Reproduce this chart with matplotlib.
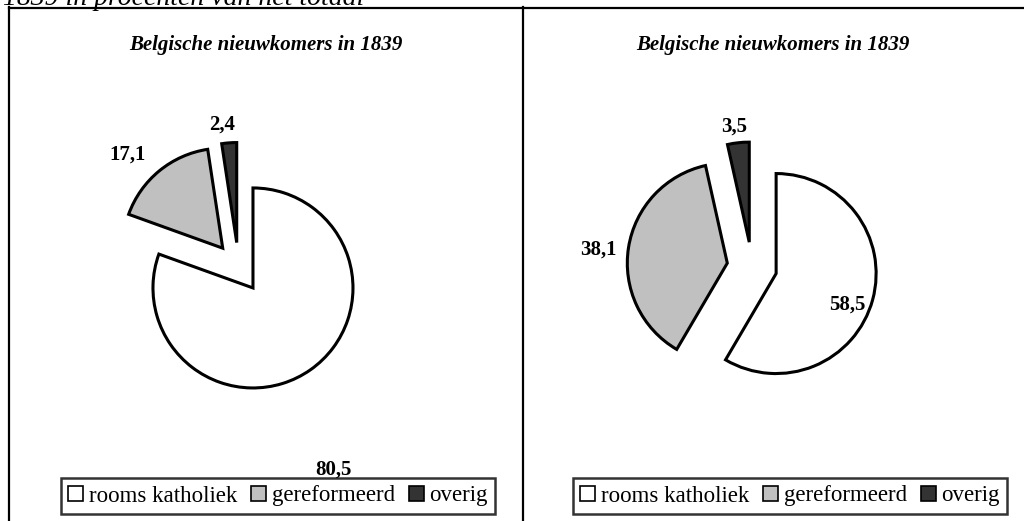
import matplotlib
matplotlib.use("Agg")
import matplotlib.pyplot as plt
from matplotlib.patches import Patch
from matplotlib.lines import Line2D

W, H = 1024, 521
categories = ["rooms katholiek", "gereformeerd", "overig"]
left_values = [80.5, 17.1, 2.4]
right_values = [58.5, 38.1, 3.5]
left_labels = ["80,5", "17,1", "2,4"]
right_labels = ["58,5", "38,1", "3,5"]
title_left = "Belgische nieuwkomers in 1839"
title_right = "Belgische nieuwkomers in 1839"
top_text = "1839 in procenten van het totaal"
colors = ["white", "#c0c0c0", "#333333"]

plt.rcParams['font.family'] = ['Liberation Serif', 'DejaVu Serif']

fig = plt.figure(figsize=(W / 100, H / 100), dpi=100)

# panel borders
def hline(x0, x1, y):
    fig.add_artist(Line2D([x0 / W, x1 / W], [1 - y / H, 1 - y / H], color='black', lw=1.6))

def vline(x, y0, y1):
    fig.add_artist(Line2D([x / W, x / W], [1 - y0 / H, 1 - y1 / H], color='black', lw=1.6))

hline(8.5, 1024, 7.5)
vline(9, 7, 521)
vline(522.5, 7, 521)

fig.text(364 / W, 1 - 5 / H, top_text, ha='right', va='baseline', fontsize=20,
         style='italic')


def pie_panel(x0, x1, cx, cy, values, labels, title, label_pos, leg_cx):
    y0, y1 = 9, 521
    ax = fig.add_axes([x0 / W, 1 - y1 / H, (x1 - x0) / W, (y1 - y0) / H])
    r = 100.0
    ax.pie(values, startangle=90, counterclock=False, explode=[0.25] * 3,
           colors=colors, radius=1.0,
           wedgeprops=dict(edgecolor='black', linewidth=2.2))
    ax.set_xlim((x0 - cx) / r, (x1 - cx) / r)
    ax.set_ylim((cy - y1) / r, (cy - y0) / r)
    ax.set_aspect('auto')
    ax.axis('off')
    for lab, (lx, ly) in zip(labels, label_pos):
        ax.text((lx - cx) / r, (cy - ly) / r, lab, ha='center', va='center',
                fontsize=15, fontweight='bold')
    ax.text(((x0 + x1) / 2 - cx) / r, (cy - 45) / r, title, ha='center', va='center',
            fontsize=15, fontweight='bold', style='italic')
    handles = [Patch(facecolor=c, edgecolor='black', linewidth=1.2) for c in colors]
    leg = ax.legend(handles, categories, loc='center',
                    bbox_to_anchor=((leg_cx - x0) / (x1 - x0), 1 - (496 - y0) / (y1 - y0)),
                    ncol=3, frameon=True, fancybox=False, fontsize=16.5,
                    handlelength=0.65, handleheight=0.65, handletextpad=0.25,
                    columnspacing=0.6, borderpad=0.33, borderaxespad=0)
    leg.get_frame().set_edgecolor('black')
    leg.get_frame().set_linewidth(1.8)
    return ax


pie_panel(9, 522, 238.6, 267.5, left_values, left_labels, title_left,
          [(333, 470), (128, 155), (222, 125)], 278)
pie_panel(522, 1024, 752, 267, right_values, right_labels, title_right,
          [(847, 305), (598, 250), (734, 127)], 790)

fig.savefig("out.png", dpi=100)
